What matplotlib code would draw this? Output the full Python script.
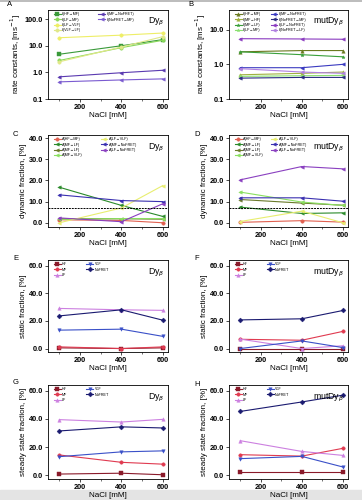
import numpy as np
import matplotlib
matplotlib.use('Agg')
import matplotlib.pyplot as plt
from matplotlib.ticker import FixedLocator, FormatStrFormatter, NullLocator
from matplotlib.lines import Line2D

plt.rcParams['font.family'] = ['Liberation Sans', 'DejaVu Sans']

nacl = [100, 400, 600]

# Panel A - Dy_beta rate constants [ms^-1]
a_labels = ['k(HF\u2192MF)', 'k(LF\u2192MF)', 'k(LF\u2192VLF)', 'k(VLF\u2192LF)',
            'k(MF\u2192NoFRET)', 'k(NoFRET\u2192MF)']
a_values = [[4.8, 10.0, 17.0],
            [2.8, 8.5, 16.0],
            [20.0, 25.0, 30.0],
            [2.5, 9.0, 22.0],
            [0.68, 0.97, 1.2],
            [0.44, 0.52, 0.57]]
a_colors = ['#3a9a3a', '#8ad85a', '#eeee66', '#e0e888', '#5a3ab0', '#7a5ad0']
a_markers = ['s', 'o', 'o', 'o', '<', '<']
a_left = 4

# Panel B - mutDy_beta rate constants
b_labels = ['k(HF\u2192MF)', 'k(MF\u2192HF)', 'k(MF\u2192LF)', 'k(LF\u2192MF)',
            'k(MF\u2192NoFRET)', 'k(NoFRET\u2192MF)', 'k(LF\u2192NoFRET)', 'k(NoFRET\u2192LF)']
b_values = [[2.3, 2.5, 2.5],
            [0.5, 0.55, 0.6],
            [2.3, 1.9, 1.65],
            [0.45, 0.47, 0.48],
            [0.8, 0.8, 1.0],
            [0.4, 0.42, 0.42],
            [5.5, 5.4, 5.3],
            [0.75, 0.6, 0.55]]
b_colors = ['#6b7a20', '#a0b040', '#3aa03a', '#8ae070', '#3a3ac0', '#2a2a80', '#8a3ac0', '#b080e0']
b_markers = ['^', '^', '*', '*', '<', '<', '<', '<']
b_left = 4

# Panels C/D - dynamic fraction [%]
cd_labels = ['A(HF\u2194MF)', 'A(MF\u2194LF)', 'A(MF\u2194LF)', 'A(MF\u2194VLF)',
             'A(LF\u2194VLF)', 'A(MF\u2194NoFRET)', 'A(LF\u2194NoFRET)']
c_values = [[1.4, 1.1, 0.0],
            [16.8, 8.2, 3.0],
            [1.9, 1.9, 1.7],
            [1.6, 2.0, 2.0],
            [0.0, 7.0, 17.6],
            [13.2, 10.5, 10.0],
            [2.3, 0.5, 9.0]]
d_values = [[0.2, 1.0, 0.3],
            [7.4, 4.4, 4.7],
            [11.0, 9.3, 8.3],
            [14.5, 9.8, 8.2],
            [0.6, 5.5, 0.0],
            [11.8, 11.8, 10.2],
            [20.3, 26.6, 25.5]]
cd_colors = ['#e06050', '#2a8a2a', '#6a7a2a', '#8ae060', '#e8ee70', '#3a30b0', '#8a40c0']
cd_markers = ['o', '<', '<', '<', '<', '<', '<']
cd_left = 4
threshold = 7.0

# Panels E-H - static / steady state fraction [%]
st_labels = ['HF', 'MF', 'LF', 'VLF', 'NoFRET']
e_values = [[0.5, 0.0, 0.5],
            [1.2, 0.0, 1.2],
            [29.0, 28.0, 27.6],
            [13.3, 14.0, 8.8],
            [23.6, 28.0, 20.5]]
f_values = [[0.0, 0.0, 0.0],
            [6.7, 6.0, 12.4],
            [6.8, 0.0, 2.0],
            [0.0, 5.5, 0.7],
            [20.7, 21.5, 27.5]]
g_values = [[1.0, 1.6, 0.5],
            [14.5, 9.3, 8.0],
            [39.5, 37.8, 39.7],
            [13.3, 16.7, 17.4],
            [31.5, 34.4, 33.6]]
h_values = [[2.2, 2.2, 2.2],
            [14.7, 13.7, 19.2],
            [24.6, 17.0, 14.2],
            [11.9, 13.5, 6.0],
            [45.3, 52.0, 56.8]]
st_colors = ['#8a1a2a', '#e03a50', '#cc80e0', '#3a50c8', '#1a1a70']
st_markers = ['s', 'o', '^', 'v', 'D']
st_left = 3

fig = plt.figure(figsize=(3.62, 5.0), dpi=100)

W, H = 362.0, 500.0
cols = [(48, 168), (229, 348)]
rows = [(10, 99), (135, 227), (260, 352), (385, 479)]


def make_ax(r, c):
    x0, x1 = cols[c]
    y0, y1 = rows[r]
    return fig.add_axes([x0 / W, 1 - y1 / H, (x1 - x0) / W, (y1 - y0) / H])


def style(ax, ylabel, xlabel='NaCl [mM]'):
    ax.set_xlim(45, 625)
    ax.xaxis.set_major_locator(FixedLocator([200, 400, 600]))
    ax.xaxis.set_minor_locator(FixedLocator([100, 300, 500]))
    ax.tick_params(axis='both', which='major', labelsize=5.3, length=2, width=0.5, pad=1.5)
    ax.tick_params(axis='both', which='minor', length=1.2, width=0.4)
    for lab in ax.get_xticklabels() + ax.get_yticklabels():
        lab.set_fontweight('bold')
    for s in ax.spines.values():
        s.set_linewidth(0.6)
    ax.set_xlabel(xlabel, fontsize=5.8, labelpad=1)
    ax.set_ylabel(ylabel, fontsize=5.8, labelpad=1.5)


def draw(ax, values, colors, markers, labels, nleft, lx2=0.42):
    handles = []
    for vals, col, mk, lab in zip(values, colors, markers, labels):
        ln, = ax.plot(nacl, vals, '-', color=col, marker=mk, markersize=2.5, lw=0.8,
                      markeredgewidth=0.3, label=lab)
        handles.append(ln)
    kw = dict(fontsize=2.7, frameon=False, labelspacing=0.35, handlelength=1.8,
              handletextpad=0.4, borderaxespad=0.2)
    leg1 = ax.legend(handles[:nleft], labels[:nleft], loc='upper left',
                     bbox_to_anchor=(0.03, 1.0), **kw)
    ax.add_artist(leg1)
    ax.legend(handles[nleft:], labels[nleft:], loc='upper left',
              bbox_to_anchor=(lx2, 1.0), **kw)


def tag(ax, text):
    ax.text(0.97, 0.93, text, transform=ax.transAxes, ha='right', va='top', fontsize=6.3)


# A
ax = make_ax(0, 0)
draw(ax, a_values, a_colors, a_markers, a_labels, a_left, lx2=0.40)
ax.set_yscale('log')
ax.set_ylim(0.1, 220)
ax.yaxis.set_major_locator(FixedLocator([0.1, 1, 10, 100]))
ax.yaxis.set_major_formatter(FormatStrFormatter('%.1f'))
ax.yaxis.set_minor_locator(NullLocator())
style(ax, 'rate constants, [ms$^{-1}$]')
tag(ax, r'Dy$_\beta$')

# B
ax = make_ax(0, 1)
draw(ax, b_values, b_colors, b_markers, b_labels, b_left, lx2=0.33)
ax.set_yscale('log')
ax.set_ylim(0.1, 37)
ax.yaxis.set_major_locator(FixedLocator([0.1, 1, 10]))
ax.yaxis.set_major_formatter(FormatStrFormatter('%.1f'))
ax.yaxis.set_minor_locator(NullLocator())
style(ax, 'rate constants, [ms$^{-1}$]')
tag(ax, r'mutDy$_\beta$')

# C, D
for c, vals, name, lx in [(0, c_values, r'Dy$_\beta$', 0.42),
                          (1, d_values, r'mutDy$_\beta$', 0.33)]:
    ax = make_ax(1, c)
    draw(ax, vals, cd_colors, cd_markers, cd_labels, cd_left, lx2=lx)
    ax.axhline(threshold, color='black', ls=(0, (2, 1)), lw=0.7)
    ax.set_ylim(-2, 41.5)
    ax.yaxis.set_major_locator(FixedLocator([0, 10, 20, 30, 40]))
    ax.yaxis.set_major_formatter(FormatStrFormatter('%.1f'))
    style(ax, 'dynamic fraction, [%]')
    tag(ax, name)

# E-H
for r, c, vals, ylab, name in [(2, 0, e_values, 'static fraction, [%]', r'Dy$_\beta$'),
                               (2, 1, f_values, 'static fraction, [%]', r'mutDy$_\beta$'),
                               (3, 0, g_values, 'steady state fraction, [%]', r'Dy$_\beta$'),
                               (3, 1, h_values, 'steady state fraction, [%]', r'mutDy$_\beta$')]:
    ax = make_ax(r, c)
    draw(ax, vals, st_colors, st_markers, st_labels, st_left, lx2=0.30)
    ax.set_ylim(-2.5, 64)
    ax.yaxis.set_major_locator(FixedLocator([0, 20, 40, 60]))
    ax.yaxis.set_major_formatter(FormatStrFormatter('%.1f'))
    style(ax, ylab)
    tag(ax, name)

# panel letters
letters = [('A', 7, 5), ('B', 188, 5), ('C', 13, 135), ('D', 194, 135),
           ('E', 13, 259), ('F', 194, 259), ('G', 13, 383), ('H', 194, 384)]
for t, px, py in letters:
    fig.text(px / W, 1 - py / H, t, fontsize=5.5, ha='left', va='center')

# thin grey line at the top edge, grey strip at the bottom
fig.add_artist(Line2D([0, 1], [0.998, 0.998], color='#b0b0b0', lw=1.2))
fig.patches.append(plt.Rectangle((0, 0), 1, 0.02, transform=fig.transFigure,
                                 color='#e4e4e4', zorder=-1))

fig.savefig('out.png', dpi=100)
